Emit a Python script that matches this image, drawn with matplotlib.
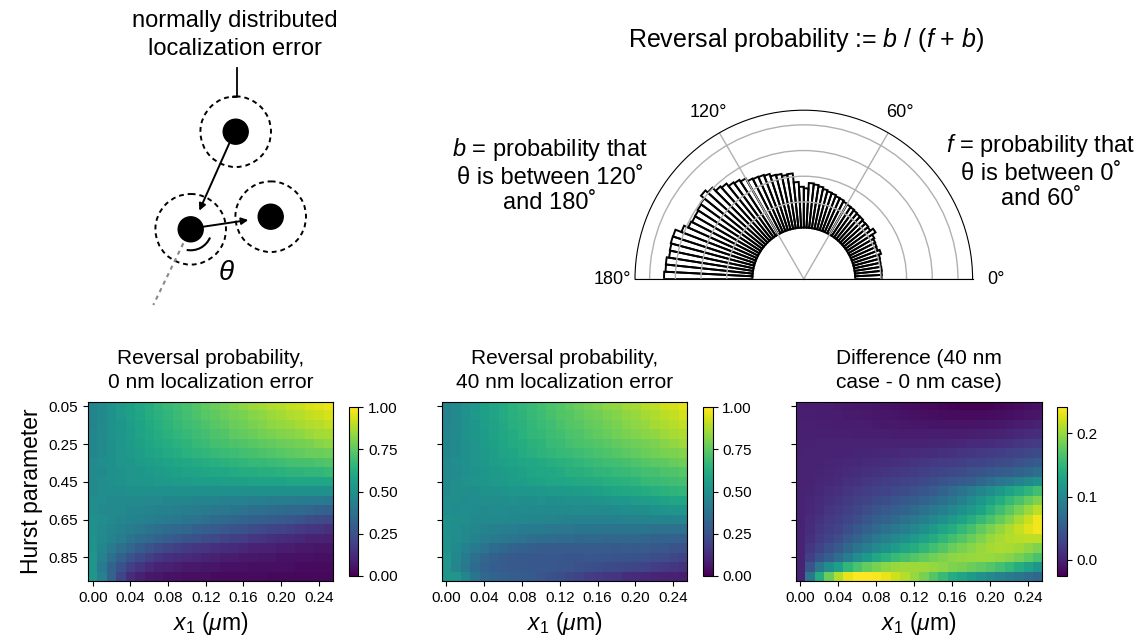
import matplotlib
matplotlib.use("Agg")
import matplotlib.pyplot as plt
import numpy as np
from matplotlib.patches import Circle, Arc

plt.rcParams['font.family'] = ['Liberation Sans', 'DejaVu Sans']
plt.rcParams['mathtext.fontset'] = 'custom'
plt.rcParams['mathtext.rm'] = 'Liberation Sans'
plt.rcParams['mathtext.it'] = 'Liberation Sans:italic'
plt.rcParams['mathtext.bf'] = 'Liberation Sans:bold'

# axes of the heatmaps
hurst = [0.05, 0.10, 0.15, 0.20, 0.25, 0.30, 0.35, 0.40, 0.45, 0.50,
         0.55, 0.60, 0.65, 0.70, 0.75, 0.80, 0.85, 0.90, 0.95]
x1 = [0.00, 0.01, 0.02, 0.03, 0.04, 0.05, 0.06, 0.07, 0.08, 0.09, 0.10, 0.11, 0.12,
      0.13, 0.14, 0.15, 0.16, 0.17, 0.18, 0.19, 0.20, 0.21, 0.22, 0.23, 0.24, 0.25]

# reversal probability, 0 nm localization error (rows = hurst, cols = x1)
rev_0nm = np.array([
    [.45, .48, .51, .54, .57, .60, .62, .65, .67, .69, .71, .73, .75, .77, .79, .81, .83, .85, .86, .88, .89, .91, .92, .94, .95, .97],
    [.45, .48, .51, .54, .57, .59, .62, .64, .66, .68, .70, .72, .74, .75, .77, .79, .80, .82, .83, .85, .86, .88, .89, .91, .92, .94],
    [.45, .48, .51, .53, .56, .58, .61, .63, .65, .67, .69, .70, .72, .74, .75, .77, .78, .80, .81, .83, .84, .85, .87, .88, .89, .91],
    [.46, .48, .51, .53, .55, .58, .60, .62, .64, .66, .67, .69, .70, .72, .73, .75, .76, .77, .79, .80, .81, .82, .83, .85, .86, .87],
    [.46, .48, .50, .52, .55, .57, .59, .61, .62, .64, .65, .67, .68, .70, .71, .72, .73, .74, .75, .76, .77, .78, .79, .80, .82, .83],
    [.46, .48, .50, .52, .54, .56, .58, .59, .61, .62, .64, .65, .66, .67, .68, .69, .70, .71, .72, .73, .74, .75, .76, .77, .77, .78],
    [.47, .49, .50, .52, .53, .55, .56, .57, .58, .59, .60, .61, .62, .63, .64, .65, .66, .67, .67, .68, .69, .70, .71, .71, .72, .73],
    [.47, .48, .50, .51, .52, .53, .54, .55, .56, .57, .58, .58, .59, .60, .60, .61, .62, .62, .63, .63, .64, .65, .65, .66, .66, .67],
    [.48, .49, .50, .51, .52, .53, .53, .54, .54, .55, .55, .56, .56, .56, .57, .57, .57, .58, .58, .58, .58, .59, .59, .59, .59, .59],
    [.48, .49, .49, .49, .50, .50, .50, .50, .50, .50, .50, .50, .50, .50, .50, .50, .50, .50, .50, .50, .50, .50, .50, .50, .50, .50],
    [.49, .49, .48, .48, .48, .47, .47, .47, .46, .46, .46, .45, .45, .45, .44, .44, .44, .43, .43, .42, .42, .42, .41, .41, .41, .40],
    [.49, .48, .48, .47, .46, .46, .45, .44, .44, .43, .42, .42, .41, .40, .40, .39, .38, .37, .37, .36, .35, .34, .34, .33, .32, .31],
    [.50, .49, .48, .46, .45, .44, .43, .42, .41, .40, .39, .38, .37, .35, .34, .33, .32, .31, .30, .29, .28, .27, .26, .24, .23, .22],
    [.50, .48, .46, .44, .42, .40, .38, .37, .35, .34, .33, .31, .30, .29, .27, .26, .25, .23, .22, .21, .20, .19, .17, .16, .15, .14],
    [.51, .48, .45, .42, .39, .36, .34, .32, .30, .28, .26, .25, .23, .22, .20, .19, .18, .16, .15, .14, .13, .12, .11, .10, .10, .09],
    [.51, .46, .41, .37, .33, .29, .26, .23, .21, .19, .17, .16, .15, .14, .13, .12, .11, .10, .09, .09, .08, .08, .07, .07, .06, .06],
    [.52, .44, .37, .31, .26, .22, .19, .16, .14, .13, .12, .11, .10, .09, .08, .08, .07, .07, .06, .06, .05, .05, .05, .05, .04, .04],
    [.52, .41, .32, .25, .19, .15, .12, .10, .09, .08, .07, .07, .06, .06, .05, .05, .05, .04, .04, .04, .04, .04, .03, .03, .03, .03],
    [.53, .44, .32, .21, .13, .09, .07, .06, .05, .05, .04, .04, .04, .03, .03, .03, .03, .03, .03, .02, .02, .02, .02, .02, .02, .02],
])

# reversal probability, 40 nm localization error
rev_40nm = np.array([
    [.447, .476, .506, .535, .564, .593, .612, .641, .660, .678, .697, .715, .734, .752, .771, .790, .808, .826, .835, .856, .867, .889, .901, .923, .935, .957],
    [.447, .477, .506, .536, .565, .584, .614, .633, .652, .671, .690, .708, .727, .736, .755, .774, .783, .803, .813, .833, .844, .865, .876, .898, .909, .931],
    [.448, .478, .507, .527, .556, .576, .605, .625, .644, .663, .683, .692, .711, .731, .740, .760, .769, .789, .799, .820, .831, .842, .864, .875, .887, .909],
    [.458, .478, .508, .528, .548, .578, .597, .617, .637, .657, .666, .686, .696, .716, .726, .746, .756, .766, .787, .798, .809, .821, .833, .855, .868, .880],
    [.459, .479, .500, .520, .550, .570, .590, .610, .620, .641, .651, .672, .682, .702, .713, .723, .734, .745, .757, .768, .780, .792, .804, .817, .839, .852],
    [.459, .480, .500, .521, .542, .562, .583, .593, .614, .625, .646, .657, .668, .679, .690, .702, .713, .725, .737, .749, .761, .774, .786, .799, .802, .815],
    [.470, .491, .502, .523, .534, .555, .566, .578, .589, .600, .612, .623, .635, .647, .659, .671, .683, .695, .698, .710, .723, .736, .749, .753, .766, .780],
    [.470, .481, .503, .514, .526, .538, .550, .562, .574, .586, .598, .600, .612, .625, .628, .641, .654, .657, .671, .674, .688, .702, .706, .721, .725, .740],
    [.480, .492, .504, .516, .528, .541, .544, .557, .560, .573, .575, .588, .591, .595, .609, .613, .617, .632, .636, .644, .651, .669, .676, .684, .692, .700],
    [.480, .493, .496, .499, .511, .515, .519, .523, .527, .530, .534, .537, .541, .546, .551, .560, .568, .577, .587, .596, .606, .617, .628, .639, .649, .660],
    [.490, .494, .488, .492, .495, .490, .495, .500, .495, .499, .504, .498, .503, .509, .506, .512, .519, .522, .534, .535, .547, .560, .563, .575, .588, .590],
    [.490, .485, .490, .485, .479, .485, .481, .478, .484, .479, .475, .480, .476, .474, .482, .480, .478, .478, .488, .489, .495, .499, .513, .517, .521, .525],
    [.500, .497, .493, .479, .474, .471, .469, .466, .464, .460, .457, .454, .451, .440, .439, .438, .438, .439, .441, .443, .445, .448, .452, .446, .450, .455],
    [.500, .489, .477, .464, .450, .439, .428, .427, .416, .414, .412, .400, .398, .398, .389, .390, .390, .382, .384, .386, .388, .388, .378, .378, .378, .376],
    [.510, .492, .472, .450, .428, .409, .400, .391, .382, .371, .360, .359, .348, .348, .339, .340, .340, .330, .330, .330, .330, .326, .320, .313, .315, .305],
    [.510, .477, .440, .410, .380, .354, .337, .320, .312, .302, .292, .291, .290, .290, .290, .290, .290, .287, .284, .290, .285, .287, .276, .273, .257, .250],
    [.520, .465, .412, .366, .330, .308, .295, .280, .275, .275, .275, .273, .270, .267, .264, .270, .265, .268, .260, .261, .250, .247, .242, .235, .216, .205],
    [.520, .455, .400, .355, .315, .300, .286, .278, .278, .275, .270, .272, .263, .262, .249, .245, .240, .226, .221, .216, .210, .202, .182, .170, .158, .145],
    [.530, .520, .460, .390, .340, .322, .310, .301, .288, .282, .262, .251, .240, .216, .200, .185, .170, .160, .150, .130, .120, .112, .104, .097, .090, .083],
])

diff = rev_40nm - rev_0nm

# angle histogram (3 degree bins, 0 -> 180), bar length above the inner ring
theta_hist = [1.03, 1.04, 1.05, 1.04, 1.05, 1.07, 1.16, 1.08, 1.10, 1.12,
              1.17, 1.33, 1.20, 1.23, 1.22, 1.26, 1.27, 1.30, 1.33, 1.35,
              1.38, 1.43, 1.45, 1.50, 1.53, 1.58, 1.65, 1.70, 1.74, 1.53,
              1.59, 1.78, 2.13, 2.10, 2.18, 2.20, 2.30, 2.34, 2.36, 2.39,
              2.52, 2.60, 2.65, 2.78, 2.85, 3.03, 3.15, 2.98, 2.93, 2.89,
              2.88, 2.92, 3.10, 3.35, 3.36, 3.33, 3.31, 3.40, 3.39, 3.44]

W, H = 1140, 643


def px(l, t, r, b):
    return [l / W, 1 - b / H, (r - l) / W, (b - t) / H]


fig = plt.figure(figsize=(W / 100, H / 100), dpi=100)

# ---- schematic (pixel coordinates) ----
sk = fig.add_axes(px(0, 0, 380, 310))
sk.set_xlim(0, 380)
sk.set_ylim(310, 0)
sk.axis('off')
for cx, cy in [(235.7, 131.7), (190.7, 229.3), (270.7, 216.7)]:
    sk.add_patch(Circle((cx, cy), 35.3, fill=False, ec='black', lw=1.4, ls=(0, (2.5, 2))))
    sk.add_patch(Circle((cx, cy), 12.5, color='black'))
sk.plot([236.7, 236.7, 233], [68, 96.7, 96.7], color='black', lw=1.3)
sk.plot([183.3, 153.3], [243.3, 305], color='#888888', lw=1.5, ls=(0, (2, 2)))
sk.annotate('', xy=(199.3, 210.7), xytext=(229.3, 143.3),
            arrowprops=dict(arrowstyle='-|>', color='black', lw=1.4, mutation_scale=10, shrinkA=0, shrinkB=0))
sk.annotate('', xy=(248.3, 220), xytext=(203.3, 226.7),
            arrowprops=dict(arrowstyle='-|>', color='black', lw=1.4, mutation_scale=10, shrinkA=0, shrinkB=0))
sk.add_patch(Arc((190.7, 229.3), 42, 42, theta1=23, theta2=101, color='black', lw=1.5))
sk.text(226.7, 273, r'$\theta$', fontsize=20, ha='center', va='center')
sk.text(235, 35, 'normally distributed\nlocalization error', fontsize=17,
        ha='center', va='center', linespacing=1.4)

# ---- polar histogram (square box, half disc sits in its middle) ----
pa = fig.add_axes(px(635, 25.8, 972.6, 363.4), projection='polar')
edges = np.deg2rad(np.linspace(0, 180, len(theta_hist) + 1))
pa.bar(edges[:-1], theta_hist, width=np.diff(edges), bottom=2, align='edge',
       facecolor='none', edgecolor='black', lw=1.4)
pa.set_thetamin(0)
pa.set_thetamax(180)
pa.set_ylim(0, 6.57)
pa.set_rticks([3, 4, 5, 6])
pa.set_yticklabels([])
pa.set_thetagrids([0, 60, 120, 180], labels=['0°', '60°', '120°', '180°'], fontsize=13)
pa.grid(color='#b0b0b0', lw=1)
pa.tick_params(axis='x', pad=6)

fig.text(806 / W, 1 - 40 / H, r'Reversal probability := $b$ / ($f$ + $b$)',
         fontsize=18, ha='center', va='center')
fig.text(550 / W, 1 - 175 / H,
         '$b$ = probability that\nθ is between 120˚\nand 180˚',
         fontsize=17, ha='center', va='center', linespacing=1.2)
fig.text(1041 / W, 1 - 171 / H,
         '$f$ = probability that\nθ is between 0˚\nand 60˚',
         fontsize=17, ha='center', va='center', linespacing=1.2)

# ---- heatmaps ----
extent = (x1[0] - 0.005, x1[-1] + 0.005, hurst[-1] + 0.025, hurst[0] - 0.025)
panels = [
    (rev_0nm, 'Reversal probability,\n0 nm localization error', (88, 333), 349, 0, 1),
    (rev_40nm, 'Reversal probability,\n40 nm localization error', (441.7, 687.3), 703.3, 0, 1),
    (diff, 'Difference (40 nm\ncase - 0 nm case)', (795.7, 1042.3), 1057.3, None, None),
]
for i, (vals, title, (l, r), cbx, vmin, vmax) in enumerate(panels):
    ax = fig.add_axes(px(l, 401.7, r, 581))
    im = ax.imshow(vals, cmap='viridis', vmin=vmin, vmax=vmax, extent=extent,
                   aspect='auto', interpolation='nearest', origin='upper')
    ax.set_xticks(x1[::4])
    ax.set_xticklabels([f'{v:.2f}' for v in x1[::4]], fontsize=11)
    ax.set_yticks(hurst[::4])
    if i == 0:
        ax.set_yticklabels([f'{v:.2f}' for v in hurst[::4]], fontsize=11)
        ax.set_ylabel('Hurst parameter', fontsize=16.5)
    else:
        ax.set_yticklabels([])
    ax.set_xlabel(r'$x_1$ ($\mu$m)', fontsize=16.5)
    ax.set_title(title, fontsize=15, linespacing=1.35, pad=10)
    cax = fig.add_axes(px(cbx, 407.3, cbx + 9.2, 575.7))
    cb = fig.colorbar(im, cax=cax)
    if vmax == 1:
        cb.set_ticks([0, 0.25, 0.5, 0.75, 1.0])
        cb.set_ticklabels(['0.00', '0.25', '0.50', '0.75', '1.00'])
    cb.ax.tick_params(labelsize=11)

fig.savefig('out.png', dpi=100)
